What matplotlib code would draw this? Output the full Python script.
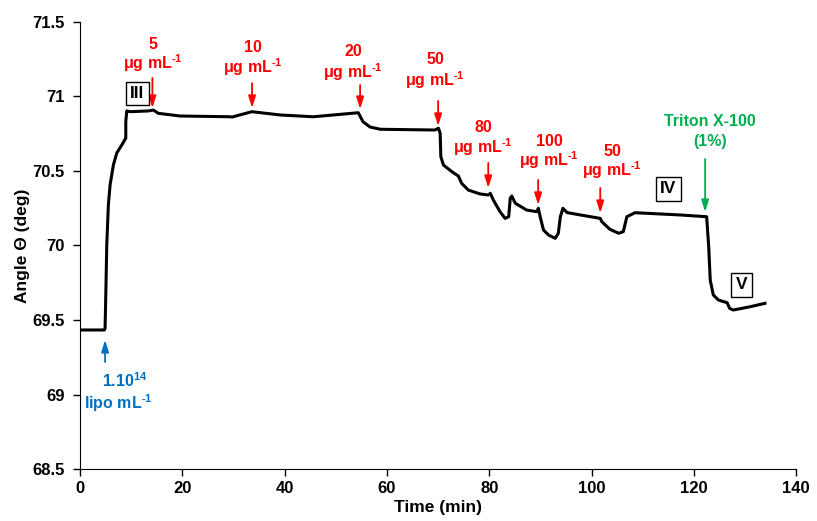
import numpy as np
import matplotlib
matplotlib.use('Agg')
import matplotlib.pyplot as plt

plt.rcParams['font.family'] = ['Liberation Sans', 'DejaVu Sans']
plt.rcParams['font.weight'] = 'bold'
plt.rcParams['mathtext.fontset'] = 'custom'
plt.rcParams['mathtext.rm'] = 'Liberation Sans:bold'
plt.rcParams['mathtext.bf'] = 'Liberation Sans:bold'
plt.rcParams['mathtext.it'] = 'Liberation Sans:bold'

# sensorgram
time = [0, 4.75, 4.89, 5.03, 5.22, 5.53, 5.87, 6.51, 7.18, 8.15, 8.94, 8.94, 9.13, 9.78,
        13.36, 14.33, 15.3, 19.55, 29.3, 29.7, 33.6, 39.1, 45.6, 54.4, 55.3, 56.7, 58.7,
        69.4, 70.07, 70.4, 70.53, 71.04, 72.7, 73.97, 74.6, 75.9, 78.2, 79.8, 80.2, 80.8,
        82.1, 83.1, 83.8, 84.1, 84.4, 85.1, 87.3, 89.3, 89.6, 89.95, 90.6, 91.6, 92.9,
        93.5, 93.9, 94.4, 95.2, 97.8, 101.7, 102.0, 103.6, 105.3, 106.2, 106.9, 108.5,
        117.3, 122.5, 122.9, 123.2, 123.8, 124.8, 126.5, 127.0, 127.7, 131.0, 133.9]
angle = [69.433, 69.433, 69.446, 69.668, 70.003, 70.272, 70.406, 70.540, 70.621, 70.674,
         70.721, 70.831, 70.903, 70.898, 70.903, 70.909, 70.887, 70.869, 70.864, 70.862,
         70.898, 70.876, 70.864, 70.891, 70.831, 70.795, 70.780, 70.775, 70.787, 70.753,
         70.596, 70.540, 70.495, 70.466, 70.417, 70.372, 70.346, 70.339, 70.350, 70.305,
         70.227, 70.182, 70.193, 70.317, 70.332, 70.283, 70.238, 70.227, 70.250, 70.193,
         70.104, 70.070, 70.048, 70.082, 70.193, 70.250, 70.221, 70.205, 70.182, 70.160,
         70.108, 70.082, 70.093, 70.193, 70.220, 70.205, 70.193, 69.992, 69.768, 69.668,
         69.634, 69.616, 69.578, 69.567, 69.589, 69.612]

conc_labels = ['5', '10', '20', '50', '80', '100', '50']
conc_times = [14.14, 33.63, 54.75, 70.0, 79.8, 89.56, 101.7]
phase_labels = ['III', 'IV', 'V']

red = '#FF0000'
green = '#00B050'
blue = '#0070C0'
unit = r'μg mL$^{\text{-1}}$'

fig = plt.figure(figsize=(8.17, 5.21), dpi=100)
ax = fig.add_axes([0.098, 0.0998, 0.8765, 0.858])
ax.plot(time, angle, color='black', linewidth=2.2, solid_joinstyle='round')

ax.set_xlim(0, 140)
ax.set_ylim(68.5, 71.5)
ax.set_xticks(np.arange(0, 141, 20))
ax.set_yticks([68.5, 69, 69.5, 70, 70.5, 71, 71.5])
ax.set_yticklabels(['68.5', '69', '69.5', '70', '70.5', '71', '71.5'])
ax.spines['top'].set_visible(False)
ax.spines['right'].set_visible(False)
ax.tick_params(direction='out', length=5, width=1, labelsize=12)
ax.tick_params(axis='y', pad=6)
for lab in ax.get_xticklabels() + ax.get_yticklabels():
    lab.set_fontweight('bold')
ax.set_xlabel('Time (min)', fontsize=12.5, fontweight='bold', labelpad=3)
ax.set_ylabel('Angle Θ (deg)', fontsize=12.5, fontweight='bold', labelpad=2)

# concentration annotations: text x, line1 y, line2 y, arrow tail y, arrow tip y
layout = [(14.3, 71.352, 71.225, 71.124, 70.923),
          (33.8, 71.332, 71.198, 71.09, 70.923),
          (53.4, 71.299, 71.164, 71.077, 70.916),
          (69.4, 71.245, 71.112, 70.97, 70.802),
          (78.8, 70.789, 70.661, 70.554, 70.386),
          (91.7, 70.701, 70.574, 70.44, 70.272),
          (104.0, 70.628, 70.507, 70.386, 70.218)]
arrow = dict(arrowstyle='-|>,head_width=0.22,head_length=0.7', color=red, lw=1.3,
             mutation_scale=10, shrinkA=0, shrinkB=0)
for lab, t, (tx, y1, y2, ya, yb) in zip(conc_labels, conc_times, layout):
    ax.text(tx, y1, lab, color=red, fontsize=11.5, fontweight='bold', ha='center', va='center')
    ax.text(tx, y2, unit, color=red, fontsize=11.5, fontweight='bold',
            ha='center', va='center')
    ax.annotate('', xy=(t, yb), xytext=(t, ya), arrowprops=arrow)

# Triton
ax.text(123.2, 70.835, 'Triton X-100', color=green, fontsize=11.5, fontweight='bold',
        ha='center', va='center')
ax.text(123.2, 70.695, '(1%)', color=green, fontsize=11.5, fontweight='bold',
        ha='center', va='center')
ax.annotate('', xy=(122.2, 70.225), xytext=(122.2, 70.58),
            arrowprops=dict(arrow, color=green))

# liposome injection
ax.text(8.8, 69.091, r'1.10$^{14}$', color=blue, fontsize=11.5, fontweight='bold',
        ha='center', va='center')
ax.text(7.4, 68.943, r'lipo mL$^{\text{-1}}$', color=blue, fontsize=11.5, fontweight='bold',
        ha='center', va='center')
ax.annotate('', xy=(4.89, 69.366), xytext=(4.89, 69.218),
            arrowprops=dict(arrow, color=blue))

# phase boxes
for lab, (bx, by) in zip(phase_labels, [(11.15, 71.02), (115.0, 70.38), (129.3, 69.735)]):
    ax.text(bx, by, lab, fontsize=12.5, fontweight='bold', ha='center', va='center',
            bbox=dict(boxstyle='square,pad=0.25', facecolor='white', edgecolor='black', lw=1))

fig.savefig('out.png', dpi=100)
